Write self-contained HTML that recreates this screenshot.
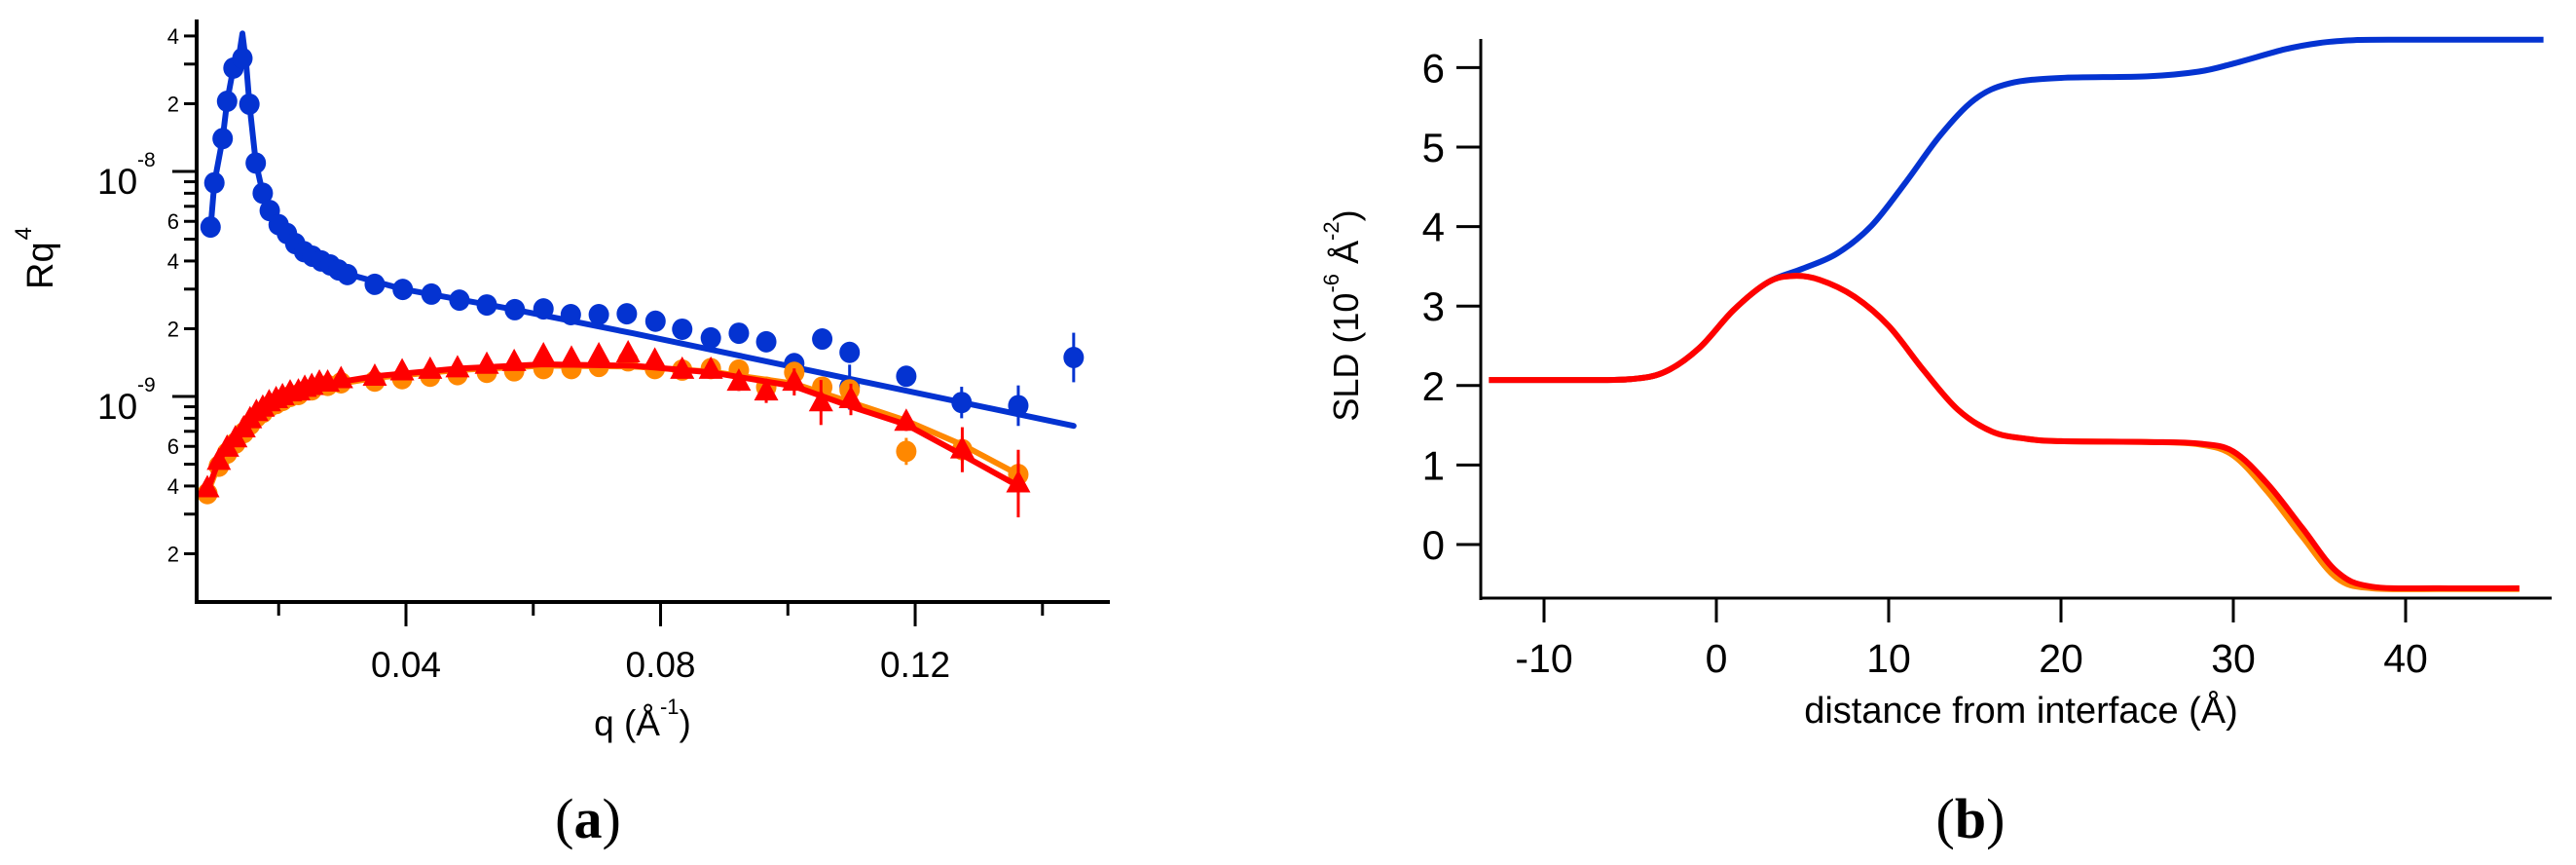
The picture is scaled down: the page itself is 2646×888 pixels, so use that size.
<!DOCTYPE html>
<html><head><meta charset="utf-8"><style>
html,body{margin:0;padding:0;background:#fff;}
svg{display:block;}
text{font-family:"Liberation Sans",sans-serif;fill:#000;}
.serif{font-family:"Liberation Serif",serif;}
</style></head><body>
<svg id="fig" width="2646" height="888" viewBox="0 0 2646 888" xmlns="http://www.w3.org/2000/svg">
<g id="panelA"></g>
<g id="panelB"></g>
<text class="serif" x="604" y="860" font-size="58" text-anchor="middle">(<tspan font-weight="bold">a</tspan>)</text>
<text class="serif" x="2024" y="860" font-size="58" text-anchor="middle">(<tspan font-weight="bold">b</tspan>)</text>
</svg>
<script>
// ---------- Panel A data ----------
const blueQ = [0.0093,0.0099,0.0112,0.0119,0.0129,0.0143,0.0154,0.0164,0.0175,0.0186,0.0200,0.0213,0.0226,0.0240,0.0253,0.0267,0.0281,0.0294,0.0308,0.0351,0.0395,0.0440,0.0484,0.0527,0.0571,0.0616,0.0659,0.0703,0.0747,0.0792,0.0834,0.0879,0.0923,0.0966,0.1010,0.1054,0.1097,0.1097,0.1186,0.1273,0.1362,0.1449];
const blueR = [5.66e-9,8.9e-9,1.40e-8,2.05e-8,2.88e-8,3.18e-8,1.99e-8,1.09e-8,8.0e-9,6.7e-9,5.8e-9,5.3e-9,4.78e-9,4.4e-9,4.2e-9,4.0e-9,3.84e-9,3.65e-9,3.48e-9,3.15e-9,2.99e-9,2.85e-9,2.68e-9,2.55e-9,2.43e-9,2.45e-9,2.31e-9,2.31e-9,2.33e-9,2.16e-9,1.99e-9,1.82e-9,1.91e-9,1.75e-9,1.40e-9,1.80e-9,1.57e-9,1.10e-9,1.23e-9,0.94e-9,0.91e-9,1.49e-9];
const blueErr = [0,0,0,0,0,0,0,0,0,0,0,0,0,0,0,0,0,0,0,0,0,0,0,0,0,0,0,0,0,0,0,0,0,0,0.03,0.04,0,0.1,0,0.07,0.09,0.11];
const blueFitQ = [0.0093,0.0099,0.0112,0.0119,0.0129,0.0138,0.0143,0.0149,0.0154,0.0164,0.0175,0.0186,0.0200,0.0240,0.0308,0.0395,0.0484,0.0571,0.0756,0.1449];
const blueFitR = [5.6e-9,8.9e-9,1.4e-8,2.05e-8,2.9e-8,3.3e-8,4.1e-8,3.0e-8,2.0e-8,1.1e-8,8.0e-9,6.7e-9,5.8e-9,4.4e-9,3.5e-9,3.0e-9,2.7e-9,2.43e-9,1.91e-9,7.4e-10];

const redQ = [0.0088,0.0106,0.0119,0.0132,0.0145,0.0155,0.0165,0.0175,0.0185,0.0196,0.0206,0.0218,0.0231,0.0241,0.0252,0.0264,0.0277,0.0298,0.0351,0.0394,0.0438,0.0481,0.0527,0.0570,0.0616,0.0660,0.0703,0.0749,0.0791,0.0834,0.0879,0.0923,0.0966,0.1010,0.1052,0.1099,0.1186,0.1274,0.1362];
const redR = [3.9e-10,5.16e-10,5.9e-10,6.5e-10,7.2e-10,7.9e-10,8.5e-10,8.9e-10,9.4e-10,9.7e-10,1.0e-9,1.04e-9,1.05e-9,1.09e-9,1.11e-9,1.15e-9,1.15e-9,1.19e-9,1.22e-9,1.29e-9,1.31e-9,1.33e-9,1.38e-9,1.42e-9,1.52e-9,1.47e-9,1.52e-9,1.55e-9,1.44e-9,1.31e-9,1.31e-9,1.16e-9,1.05e-9,1.16e-9,0.94e-9,0.97e-9,0.77e-9,0.58e-9,0.41e-9];
const redErr = [0,0,0,0,0,0,0,0,0,0,0,0,0,0,0,0,0,0,0,0,0,0,0,0,0,0,0,0,0,0,0.02,0.04,0.05,0.06,0.1,0.07,0.04,0.1,0.15];
const redFitQ = [0.0088,0.0106,0.0132,0.0165,0.0206,0.0264,0.0351,0.0481,0.0616,0.0756,0.0879,0.1010,0.1100,0.1186,0.1274,0.1362];
const redFitR = [3.8e-10,5.2e-10,6.6e-10,8.4e-10,9.9e-10,1.12e-9,1.23e-9,1.33e-9,1.39e-9,1.37e-9,1.28e-9,1.11e-9,0.90e-9,0.75e-9,0.55e-9,0.40e-9];

const orangeQ = [0.0088,0.0106,0.0119,0.0132,0.0145,0.0155,0.0165,0.0175,0.0185,0.0196,0.0206,0.0218,0.0231,0.0252,0.0277,0.0298,0.0351,0.0394,0.0438,0.0481,0.0527,0.0570,0.0616,0.0660,0.0703,0.0749,0.0791,0.0834,0.0879,0.0923,0.0966,0.1010,0.1054,0.1097,0.1186,0.1274,0.1362];
const orangeR = [3.7e-10,4.9e-10,5.6e-10,6.2e-10,6.9e-10,7.5e-10,8.1e-10,8.5e-10,9.0e-10,9.3e-10,9.6e-10,1.0e-9,1.02e-9,1.07e-9,1.12e-9,1.15e-9,1.17e-9,1.2e-9,1.23e-9,1.25e-9,1.28e-9,1.3e-9,1.33e-9,1.33e-9,1.36e-9,1.44e-9,1.33e-9,1.31e-9,1.33e-9,1.31e-9,1.1e-9,1.28e-9,1.1e-9,1.07e-9,0.57e-9,0.58e-9,0.45e-9];
const orangeErr = [0,0,0,0,0,0,0,0,0,0,0,0,0,0,0,0,0,0,0,0,0,0,0,0,0,0,0,0,0,0,0,0.02,0.03,0.03,0.06,0.06,0.09];
const orangeFitQ = [0.0088,0.0106,0.0132,0.0165,0.0206,0.0264,0.0351,0.0481,0.0616,0.0756,0.0879,0.1010,0.1100,0.1186,0.1274,0.1362];
const orangeFitR = [3.7e-10,5.0e-10,6.4e-10,8.2e-10,9.7e-10,1.1e-9,1.21e-9,1.31e-9,1.37e-9,1.36e-9,1.29e-9,1.14e-9,0.94e-9,0.78e-9,0.61e-9,0.45e-9];

const qTicksMajor = [0.04,0.08,0.12];
const qTickLabels = ["0.04","0.08","0.12"];
const qTicksMinor = [0.02,0.06,0.10,0.14];
const rDecades = [-8,-9];
const rMinorTicks = [4e-8,3e-8,2e-8,9e-9,8e-9,7e-9,6e-9,5e-9,4e-9,3e-9,2e-9,9e-10,8e-10,7e-10,6e-10,5e-10,4e-10,3e-10,2e-10];
const rMinorLabelVals = [4e-8,2e-8,6e-9,4e-9,2e-9,6e-10,4e-10,2e-10];
const rMinorLabels = ["4","2","6","4","2","6","4","2"];

// ---------- Panel B data ----------
const sldBlueX = [-13.2,-8,-5,-3,-1,1,3,5,7,9,11,13,15,17,20,25,28,30,33,35,37,39,48];
const sldBlueY = [2.07,2.07,2.08,2.17,2.47,2.95,3.3,3.47,3.66,4.01,4.56,5.15,5.6,5.8,5.87,5.89,5.95,6.05,6.23,6.31,6.345,6.35,6.35];
const sldRedX = [-13.2,-8,-5,-3,-1,1,3,4.5,6,8,10,12,14,16,18,20,25,28,30,32,34,36,38,42,46.6];
const sldRedY = [2.07,2.07,2.08,2.17,2.47,2.95,3.3,3.38,3.33,3.12,2.75,2.2,1.7,1.42,1.33,1.3,1.29,1.27,1.17,0.76,0.21,-0.34,-0.53,-0.55,-0.55];
const sldOrangeX = [-13.2,-8,-5,-3,-1,1,3,4.5,6,8,10,12,14,16,18,20,25,28,30,32,34,36,38,42,46.6];
const sldOrangeY = [2.07,2.07,2.08,2.17,2.47,2.95,3.3,3.38,3.33,3.12,2.75,2.2,1.7,1.42,1.33,1.3,1.29,1.26,1.12,0.66,0.1,-0.42,-0.55,-0.56,-0.56];
const distTicks = [-10,0,10,20,30,40];
const distTickLabels = ["-10","0","10","20","30","40"];
const sldTicks = [0,1,2,3,4,5,6];
const sldTickLabels = ["0","1","2","3","4","5","6"];

const NS = "http://www.w3.org/2000/svg";
function mk(parent, tag, attrs, txt) {
  const e = document.createElementNS(NS, tag);
  for (const k in attrs) e.setAttribute(k, attrs[k]);
  if (txt !== undefined) e.textContent = txt;
  parent.appendChild(e);
  return e;
}

// ---------- Panel A ----------
const A = document.getElementById('panelA');
const xq = q => 417 + (q - 0.04) * 6538;
const yR = r => 407 - (Math.log10(r) + 9) * 231;
const AX0 = 202, AX1 = 1140, AY0 = 20, AY1 = 618;

function seriesLine(qs, rs, color, name) {
  const d = qs.map((q, i) => (i ? 'L' : 'M') + xq(q).toFixed(1) + ' ' + yR(rs[i]).toFixed(1)).join(' ');
  const p = mk(A, 'path', {d: d, fill: 'none', stroke: color, 'stroke-width': 6, 'stroke-linejoin': 'round', 'stroke-linecap': 'round'});
  
  
}
function errBars(qs, rs, errs, color, name) {
  qs.forEach((q, i) => {
    if (!errs[i]) return;
    const x = xq(q), l = Math.log10(rs[i]);
    const ln = mk(A, 'line', {x1: x, x2: x, y1: yR(Math.pow(10, l + errs[i])), y2: yR(Math.pow(10, l - errs[i])), stroke: color, 'stroke-width': 3});
    
    
  });
}
function circles(qs, rs, color, name) {
  qs.forEach((q, i) => {
    const c = mk(A, 'ellipse', {cx: xq(q), cy: yR(rs[i]), rx: 10.5, ry: 11, fill: color});
    
    
  });
}
function triangles(qs, rs, color, name) {
  qs.forEach((q, i) => {
    const x = xq(q), y = yR(rs[i]);
    const t = mk(A, 'polygon', {points: `${x},${y-14} ${x-12.5},${y+9} ${x+12.5},${y+9}`, fill: color});
    
    
  });
}

const BLUE = '#0433d1', ORANGE = '#ff8800', RED = '#ff0000';
errBars(blueQ, blueR, blueErr, BLUE, 'blue-error-bar');
seriesLine(blueFitQ, blueFitR, BLUE, 'blue-fit-line');
circles(blueQ, blueR, BLUE, 'blue-data-point');
errBars(orangeQ, orangeR, orangeErr, ORANGE, 'orange-error-bar');
seriesLine(orangeFitQ, orangeFitR, ORANGE, 'orange-fit-line');
circles(orangeQ, orangeR, ORANGE, 'orange-data-point');
errBars(redQ, redR, redErr, RED, 'red-error-bar');
seriesLine(redFitQ, redFitR, RED, 'red-fit-line');
triangles(redQ, redR, RED, 'red-data-point');

// axes A
let e;
e = mk(A, 'line', {x1: AX0, x2: AX0, y1: AY0, y2: AY1 + 2, stroke: '#000', 'stroke-width': 4});
 
e = mk(A, 'line', {x1: AX0 - 2, x2: AX1, y1: AY1, y2: AY1, stroke: '#000', 'stroke-width': 4});
 
qTicksMajor.forEach((q, i) => {
  const t = mk(A, 'line', {x1: xq(q), x2: xq(q), y1: AY1, y2: 643, stroke: '#000', 'stroke-width': 3});
   
  const l = mk(A, 'text', {x: xq(q), y: 695, 'font-size': 37, 'text-anchor': 'middle'}, qTickLabels[i]);
   
});
qTicksMinor.forEach(q => {
  const t = mk(A, 'line', {x1: xq(q), x2: xq(q), y1: AY1, y2: 632, stroke: '#000', 'stroke-width': 3});
   
});
rDecades.forEach(d => {
  const y = yR(Math.pow(10, d));
  const t = mk(A, 'line', {x1: 177, x2: AX0, y1: y, y2: y, stroke: '#000', 'stroke-width': 3});
   
  const l = mk(A, 'text', {x: 100, y: y + 23, 'font-size': 37}, '10');
   
  mk(l, 'tspan', {x: 141, dy: -28, 'font-size': 21}, String(d));
});
rMinorTicks.forEach(r => {
  const y = yR(r);
  const t = mk(A, 'line', {x1: 189, x2: AX0, y1: y, y2: y, stroke: '#000', 'stroke-width': 3});
   
});
rMinorLabelVals.forEach((r, i) => {
  const l = mk(A, 'text', {x: 184, y: yR(r) + 8, 'font-size': 22, 'text-anchor': 'end'}, rMinorLabels[i]);
   
});
e = mk(A, 'text', {x: 0, y: 0, 'font-size': 38, 'text-anchor': 'middle', transform: 'translate(54,265) rotate(-90)'}, 'Rq');
 
mk(e, 'tspan', {dx: 2, dy: -22, 'font-size': 24}, '4');
e = mk(A, 'text', {x: 660, y: 755, 'font-size': 37, 'text-anchor': 'middle'}, 'q (Å');
 
mk(e, 'tspan', {dy: -22, 'font-size': 22}, '-1');
mk(e, 'tspan', {dy: 22}, ')');

// ---------- Panel B ----------
const B = document.getElementById('panelB');
const xs = x => 1763 + x * 17.7;
const ys = v => 559 - v * 81.6;
function smooth(xsArr, ysArr) {
  const P = xsArr.map((x, i) => [xs(x), ys(ysArr[i])]);
  let d = 'M' + P[0][0].toFixed(1) + ' ' + P[0][1].toFixed(1);
  for (let i = 0; i < P.length - 1; i++) {
    const p0 = P[i - 1] || P[i], p1 = P[i], p2 = P[i + 1], p3 = P[i + 2] || P[i + 1];
    const c1 = [p1[0] + (p2[0] - p0[0]) / 6, p1[1] + (p2[1] - p0[1]) / 6];
    const c2 = [p2[0] - (p3[0] - p1[0]) / 6, p2[1] - (p3[1] - p1[1]) / 6];
    d += ` C${c1[0].toFixed(1)} ${c1[1].toFixed(1)} ${c2[0].toFixed(1)} ${c2[1].toFixed(1)} ${p2[0].toFixed(1)} ${p2[1].toFixed(1)}`;
  }
  return d;
}
e = mk(B, 'path', {d: smooth(sldBlueX, sldBlueY), fill: 'none', stroke: BLUE, 'stroke-width': 6});
 
e = mk(B, 'path', {d: smooth(sldOrangeX, sldOrangeY), fill: 'none', stroke: ORANGE, 'stroke-width': 6});
 
e = mk(B, 'path', {d: smooth(sldRedX, sldRedY), fill: 'none', stroke: RED, 'stroke-width': 6});
 

e = mk(B, 'line', {x1: 1521, x2: 1521, y1: 40, y2: 616, stroke: '#000', 'stroke-width': 3});
 
e = mk(B, 'line', {x1: 1520, x2: 2621, y1: 614, y2: 614, stroke: '#000', 'stroke-width': 3});
 
distTicks.forEach((x, i) => {
  const t = mk(B, 'line', {x1: xs(x), x2: xs(x), y1: 614, y2: 639, stroke: '#000', 'stroke-width': 3});
   
  const l = mk(B, 'text', {x: xs(x), y: 690, 'font-size': 41, 'text-anchor': 'middle'}, distTickLabels[i]);
   
});
sldTicks.forEach((v, i) => {
  const t = mk(B, 'line', {x1: 1496, x2: 1521, y1: ys(v), y2: ys(v), stroke: '#000', 'stroke-width': 3});
   
  const l = mk(B, 'text', {x: 1484, y: ys(v) + 15, 'font-size': 42, 'text-anchor': 'end'}, sldTickLabels[i]);
   
});
e = mk(B, 'text', {x: 2076, y: 742, 'font-size': 38, 'text-anchor': 'middle'}, 'distance from interface (Å)');
 
e = mk(B, 'text', {x: 0, y: 0, 'font-size': 36, 'text-anchor': 'middle', transform: 'translate(1395,324) rotate(-90)'}, 'SLD (10');
 
mk(e, 'tspan', {dy: -20, 'font-size': 22}, '-6');
mk(e, 'tspan', {dy: 20}, ' Å');
mk(e, 'tspan', {dy: -20, 'font-size': 22}, '-2');
mk(e, 'tspan', {dy: 20}, ')');
</script>
</body></html>
